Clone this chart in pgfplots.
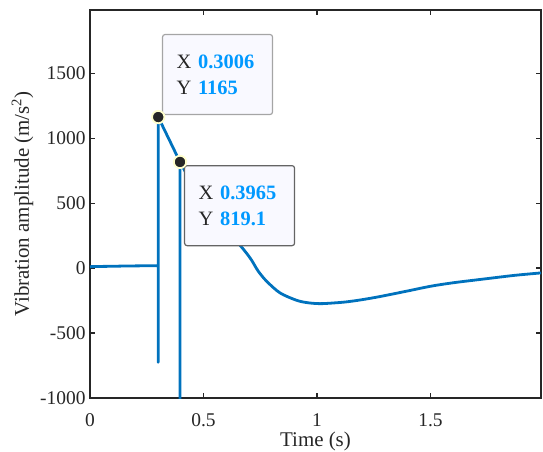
\documentclass[border=0pt]{standalone}
\usepackage{fontspec}
\setmainfont{Liberation Serif}
\usepackage{pgfplots}
\pgfplotsset{compat=1.18}
\definecolor{mblue}{RGB}{0,114,189}
\definecolor{axgray}{RGB}{38,38,38}
\definecolor{tipblue}{RGB}{0,153,255}
\definecolor{tipbg}{RGB}{249,249,255}
\definecolor{tipedgeA}{RGB}{165,165,165}
\definecolor{tipedgeB}{RGB}{100,100,100}
\definecolor{mkedge}{RGB}{255,255,205}
\begin{document}
\begin{tikzpicture}
\begin{axis}[name=ax, scale only axis, width=451bp, height=388bp,
  xmin=0, xmax=1.987, ymin=-1000, ymax=1990,
  xtick={0,0.5,1,1.5}, ytick={-1000,-500,0,500,1000,1500},
  tick align=inside, major tick length=5bp,
  axis line style={axgray, line width=2.2pt},
  tick style={axgray, line width=1.6pt},
  ticklabel style={font=\fontsize{19.5}{22}\selectfont, text=axgray},
  /pgf/number format/assume math mode=true,
  /pgf/number format/1000 sep={},
  xticklabel style={yshift=-12bp},
  yticklabel style={xshift=-1bp},
  xlabel={Time (s)},
  xlabel style={yshift=2bp},
  ylabel={Vibration amplitude (m/s\textsuperscript{2})},
  label style={font=\fontsize{21}{24}\selectfont, text=axgray},
  clip=true]
\addplot[mblue, line width=2.8bp, line join=round] coordinates {
(0,12) (0.05,14) (0.1,15) (0.15,17) (0.2,18) (0.25,19) (0.3004,20)
(0.3005,-725) (0.3006,1165) (0.3965,819.1) (0.3966,-1500)
};
\addplot[mblue, line width=2.8bp, smooth, tension=0.5] coordinates {
(0.3965,819.1) (0.45,650) (0.5,515) (0.55,395) (0.6,295) (0.661,177) (0.69,115) (0.712,62)
(0.741,-22) (0.778,-100) (0.837,-190) (0.91,-247) (0.96,-266) (1.013,-273)
(1.07,-268) (1.131,-259) (1.2,-242) (1.278,-218) (1.4,-175) (1.5,-139)
(1.6,-112) (1.75,-80) (1.87,-55) (1.987,-36)
};
\node[draw=tipedgeA, fill=tipbg, rounded corners=2.5bp, line width=1.2bp,
  text width=82bp, inner xsep=14bp, inner ysep=0pt, minimum height=80bp,
  align=left, anchor=south west, font=\fontsize{20.5}{26}\selectfont]
  at (axis cs:0.317,1180)
  {\textcolor{axgray}{X} \textcolor{tipblue}{\textbf{0.3006}}\\\textcolor{axgray}{Y} \textcolor{tipblue}{\textbf{1165}}};
\node[draw=tipedgeB, fill=tipbg, rounded corners=2.5bp, line width=1.2bp,
  text width=82bp, inner xsep=14bp, inner ysep=0pt, minimum height=80bp,
  align=left, anchor=north west, font=\fontsize{20.5}{26}\selectfont]
  at (axis cs:0.414,795)
  {\textcolor{axgray}{X} \textcolor{tipblue}{\textbf{0.3965}}\\\textcolor{axgray}{Y} \textcolor{tipblue}{\textbf{819.1}}};
\addplot[only marks, mark=*, mark size=6.2bp, mark options={fill=axgray, draw=mkedge, line width=1.8bp}] coordinates {(0.3006,1165) (0.3965,819.1)};
\end{axis}
\pgfresetboundingbox
\path ([shift={(-90bp,-54bp)}]ax.south west) rectangle ([shift={(2bp,10bp)}]ax.north east);
\end{tikzpicture}
\end{document}
